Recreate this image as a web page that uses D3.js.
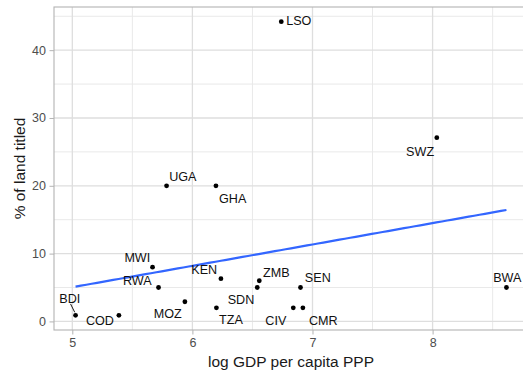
<!DOCTYPE html>
<html>
<head>
<meta charset="utf-8">
<script src="https://cdn.jsdelivr.net/npm/d3@7"></script>
<style>
  html, body { margin: 0; padding: 0; background: #fff; }
  svg { display: block; font-family: "Liberation Sans", Arial, sans-serif; }
</style>
</head>
<body>
<svg id="chart" width="523" height="377"></svg>
<script>
// Countries: ISO code, log GDP per capita (PPP), share of land titled (%)
const countries = ["BDI", "COD", "MWI", "RWA", "UGA", "MOZ", "GHA", "TZA", "KEN",
                   "SDN", "ZMB", "LSO", "CIV", "SEN", "CMR", "SWZ", "BWA"];
const logGdp    = [5.027, 5.388, 5.668, 5.718, 5.785, 5.9375, 6.196, 6.2, 6.2375,
                   6.54, 6.557, 6.74, 6.84, 6.9, 6.92, 8.035, 8.615];
const landTitled = [0.9, 0.9, 8.0, 5.0, 20.0, 2.9, 20.0, 2.0, 6.3,
                    5.0, 6.0, 44.2, 2.0, 5.0, 2.0, 27.1, 5.0];
const xTicks = [5, 6, 7, 8];
const yTicks = [0, 10, 20, 30, 40];

// Repelled label placement, offset from each point in pixels
const labelOffset = {
  BDI: [-5.7, -16.4], COD: [-19, 5.3], MWI: [-15.2, -9.6], RWA: [-21.2, -7],
  UGA: [16.3, -9], MOZ: [-17.2, 12], GHA: [16.8, 12.6], TZA: [14.5, 12],
  KEN: [-16.7, -9], SDN: [-16.3, 12.3], ZMB: [17, -8.6], LSO: [17.5, -1.3],
  CIV: [-17.5, 12.6], SEN: [17.3, -10], CMR: [20.4, 12.6], SWZ: [-16.7, 13.7],
  BWA: [0.8, -10]
};
// Labels pushed far enough to get a connector segment
const segmentFor = { BDI: [[-5, -11.4], [-0.8, -3]] };

const data = countries.map((c, i) => ({ code: c, x: logGdp[i], y: landTitled[i] }));

const panel = { left: 54, right: 528, top: 7, bottom: 330 };

function expand(ext, mult) {
  const r = ext[1] - ext[0];
  return [ext[0] - r * mult, ext[1] + r * mult];
}

const x = d3.scaleLinear()
  .domain(expand(d3.extent(logGdp), 0.05))
  .range([panel.left, panel.right]);
const y = d3.scaleLinear()
  .domain(expand(d3.extent(landTitled), 0.05))
  .range([panel.bottom, panel.top]);

const svg = d3.select("#chart");

// Grid
const grid = svg.append("g");
const xMinor = d3.range(4.5, 9.01, 1).filter(v => v > x.domain()[0] && v < x.domain()[1]);
const yMinor = d3.range(5, 50, 10).filter(v => v > y.domain()[0] && v < y.domain()[1]);

grid.selectAll(".xminor").data(xMinor).join("line")
  .attr("x1", d => x(d)).attr("x2", d => x(d))
  .attr("y1", panel.top).attr("y2", panel.bottom)
  .attr("stroke", "#e9e9e9").attr("stroke-width", 1);
grid.selectAll(".yminor").data(yMinor).join("line")
  .attr("x1", panel.left).attr("x2", panel.right)
  .attr("y1", d => y(d)).attr("y2", d => y(d))
  .attr("stroke", "#e9e9e9").attr("stroke-width", 1);
grid.selectAll(".xmajor").data(xTicks).join("line")
  .attr("x1", d => x(d)).attr("x2", d => x(d))
  .attr("y1", panel.top).attr("y2", panel.bottom)
  .attr("stroke", "#dedede").attr("stroke-width", 1.3);
grid.selectAll(".ymajor").data(yTicks).join("line")
  .attr("x1", panel.left).attr("x2", panel.right)
  .attr("y1", d => y(d)).attr("y2", d => y(d))
  .attr("stroke", "#dedede").attr("stroke-width", 1.3);

// Panel border
svg.append("rect")
  .attr("x", panel.left).attr("y", panel.top)
  .attr("width", panel.right - panel.left).attr("height", panel.bottom - panel.top)
  .attr("fill", "none").attr("stroke", "#b3b3b3").attr("stroke-width", 1.1);

// Axes
const xAxis = svg.append("g")
  .attr("transform", `translate(0,${panel.bottom})`)
  .call(d3.axisBottom(x).tickValues(xTicks).tickFormat(d3.format("d")).tickSize(4.5).tickPadding(4));
const yAxis = svg.append("g")
  .attr("transform", `translate(${panel.left},0)`)
  .call(d3.axisLeft(y).tickValues(yTicks).tickFormat(d3.format("d")).tickSize(4.5).tickPadding(3.5));
[xAxis, yAxis].forEach(a => {
  a.select(".domain").remove();
  a.selectAll(".tick line").attr("stroke", "#b3b3b3");
  a.selectAll(".tick text").attr("fill", "#4d4d4d")
    .style("font-size", "12.5px").style("font-family", "Liberation Sans, Arial, sans-serif");
});

// Axis titles
svg.append("text")
  .attr("x", (54 + 522) / 2 + 3).attr("y", 367)
  .attr("text-anchor", "middle").attr("fill", "#1a1a1a")
  .style("font-size", "15.5px")
  .text("log GDP per capita PPP");
svg.append("text")
  .attr("transform", `translate(25,${(panel.top + panel.bottom) / 2}) rotate(-90)`)
  .attr("text-anchor", "middle").attr("fill", "#1a1a1a")
  .style("font-size", "15.5px")
  .text("% of land titled");

// Linear fit (least squares)
const mx = d3.mean(logGdp), my = d3.mean(landTitled);
const sxy = d3.sum(data, d => (d.x - mx) * (d.y - my));
const sxx = d3.sum(data, d => (d.x - mx) ** 2);
const slope = sxy / sxx, intercept = my - slope * mx;
const [fx0, fx1] = d3.extent(logGdp);
const fit = d3.range(0, 81).map(i => {
  const xv = fx0 + (fx1 - fx0) * i / 80;
  return [xv, intercept + slope * xv];
});
svg.append("path")
  .datum(fit)
  .attr("d", d3.line().x(d => x(d[0])).y(d => y(d[1])))
  .attr("fill", "none").attr("stroke", "#3366ff").attr("stroke-width", 2.2);

// Points
svg.append("g").selectAll("circle").data(data).join("circle")
  .attr("cx", d => x(d.x)).attr("cy", d => y(d.y))
  .attr("r", 2.4).attr("fill", "#000");

// Connector segments
svg.append("g").selectAll("line").data(data.filter(d => segmentFor[d.code])).join("line")
  .attr("x1", d => x(d.x) + segmentFor[d.code][0][0])
  .attr("y1", d => y(d.y) + segmentFor[d.code][0][1])
  .attr("x2", d => x(d.x) + segmentFor[d.code][1][0])
  .attr("y2", d => y(d.y) + segmentFor[d.code][1][1])
  .attr("stroke", "#000").attr("stroke-width", 0.9);

// Country labels
svg.append("g").selectAll("text").data(data).join("text")
  .attr("x", d => x(d.x) + labelOffset[d.code][0])
  .attr("y", d => y(d.y) + labelOffset[d.code][1])
  .attr("dy", "0.35em")
  .attr("text-anchor", "middle").attr("fill", "#111")
  .style("font-size", "12.6px")
  .text(d => d.code);
</script>
</body>
</html>
